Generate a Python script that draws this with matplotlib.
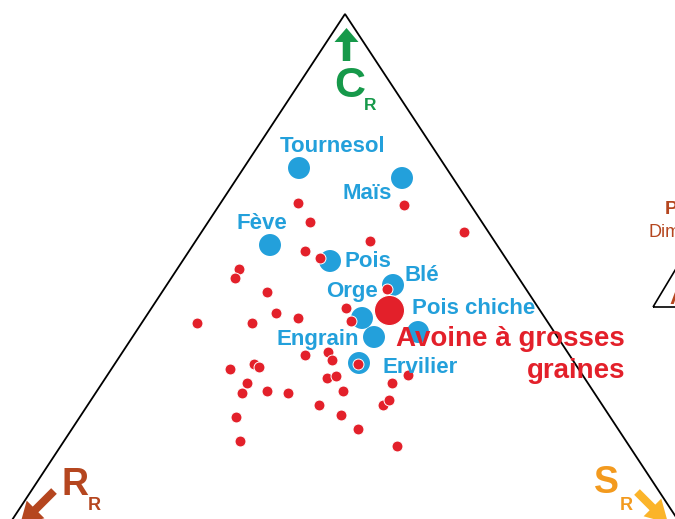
import matplotlib
matplotlib.use("Agg")
import matplotlib.pyplot as plt
from matplotlib import font_manager
from matplotlib.patches import FancyArrow, Polygon

# ---------------- data (plot-plane coordinates of the CSR ternary diagram) -------------
red_x = [298, 404, 310, 370, 305, 320, 239, 235, 387, 267, 346, 197, 252, 276, 298, 351,
         305, 328, 332, 358, 230, 254, 259, 408, 247, 242, 267, 288, 327, 336, 343, 392,
         319, 341, 383, 389, 236, 358, 240, 397, 464]
red_y = [203, 205, 222, 241, 251, 258, 269, 278, 289, 292, 308, 323, 323, 313, 318, 321,
         355, 352, 360, 364, 369, 364, 367, 375, 383, 393, 391, 393, 378, 376, 391, 383,
         405, 415, 405, 400, 417, 429, 441, 446, 232]

crops = ["Tournesol", "Maïs", "Fève", "Pois", "Blé", "Orge", "Pois chiche", "Engrain", "Ervilier"]
crop_x = [299, 402, 270, 330, 393, 362, 418, 374, 359]
crop_y = [168, 178, 245, 261, 285, 318, 332, 337, 363]

focus_name = "Avoine à grosses\ngraines"
focus_x = [389]
focus_y = [310]

# label anchor positions (left, baseline)
label_pos = [(280, 152), (343, 199), (236, 229), (344, 267), (405, 281), (326, 297),
             (412, 314), (276, 345), (382, 373)]

# ---------------- style ----------------
RED = "#E3202A"
BLUE = "#23A0DB"
GREEN = "#16994A"
BROWN = "#B5461F"
ORANGE = "#F39A1E"
ARROW_ORANGE = "#FBB42A"

names = {f.name for f in font_manager.fontManager.ttflist}
if "Liberation Sans Narrow" in names:
    FAM = ["Liberation Sans Narrow", "DejaVu Sans"]
    lab_size, big_size = 19, 23
else:
    FAM = ["Liberation Sans", "DejaVu Sans"]
    lab_size, big_size = 16, 20
FAM2 = ["Liberation Sans", "DejaVu Sans"]

fig = plt.figure(figsize=(6.75, 5.19), dpi=100)
ax = fig.add_axes([0, 0, 1, 1])
ax.set_xlim(0, 675)
ax.set_ylim(519, 0)
ax.axis("off")

# triangle outline (extends beyond the visible area)
apex = (345, 14)
k = 0.658
yb = 600
ax.plot([apex[0] - k * (yb - apex[1]), apex[0], apex[0] + k * (yb - apex[1])],
        [yb, apex[1], yb], color="black", lw=1.3, zorder=1, solid_joinstyle="miter")

# points
ax.scatter(crop_x, crop_y, s=250, color=BLUE, edgecolors="none", zorder=2)
ax.scatter(red_x, red_y, s=62, color=RED, edgecolors="white", linewidths=0.7, zorder=3)
ax.scatter(focus_x, focus_y, s=470, color=RED, edgecolors="white", linewidths=0.8, zorder=4)

for name, (lx, ly) in zip(crops, label_pos):
    ax.text(lx, ly, name, color=BLUE, fontsize=lab_size, fontweight="bold", family=FAM,
            ha="left", va="baseline", zorder=5)

l1, l2 = focus_name.split("\n")
ax.text(625, 346, l1, color=RED, fontsize=big_size, fontweight="bold", family=FAM,
        ha="right", va="baseline", zorder=6)
ax.text(625, 378, l2, color=RED, fontsize=big_size, fontweight="bold", family=FAM,
        ha="right", va="baseline", zorder=6)

# pole labels
ax.add_patch(FancyArrow(346.5, 61, 0, -33, width=7.5, head_width=24, head_length=14,
                        length_includes_head=True, color=GREEN, lw=0))
ax.text(334, 97, "C", color=GREEN, fontsize=31, fontweight="bold", family=FAM2,
        ha="left", va="baseline")
ax.text(364, 110, "R", color=GREEN, fontsize=12.5, fontweight="bold", family=FAM2,
        ha="left", va="baseline")

ax.text(62, 495, "R", color=BROWN, fontsize=27, fontweight="bold", family=FAM2,
        ha="left", va="baseline")
ax.text(88, 510, "R", color=BROWN, fontsize=13, fontweight="bold", family=FAM2,
        ha="left", va="baseline")
ax.add_patch(FancyArrow(54, 491, -34, 34, width=8, head_width=25, head_length=22,
                        length_includes_head=True, color=BROWN, lw=0))

ax.text(594, 493, "S", color=ORANGE, fontsize=27, fontweight="bold", family=FAM2,
        ha="left", va="baseline")
ax.text(620, 510, "R", color=ORANGE, fontsize=13, fontweight="bold", family=FAM2,
        ha="left", va="baseline")
ax.add_patch(FancyArrow(637, 492, 31, 31, width=8, head_width=25, head_length=22,
                        length_includes_head=True, color=ARROW_ORANGE, lw=0))

# partial legend at right edge
ax.text(665, 214, "P", color=BROWN, fontsize=14, fontweight="bold", family=FAM2,
        ha="left", va="baseline")
ax.text(648, 237, "Dim", color=BROWN, fontsize=13, family=FAM2, ha="left", va="baseline")
ax.add_patch(Polygon([[653, 307], [680, 262], [707, 307]], closed=True, fill=False,
                     edgecolor="black", lw=1.2))
ax.text(669, 304, "A", color=BROWN, fontsize=16, fontweight="bold", family=FAM2,
        ha="left", va="baseline")

fig.savefig("out.png", dpi=100)
